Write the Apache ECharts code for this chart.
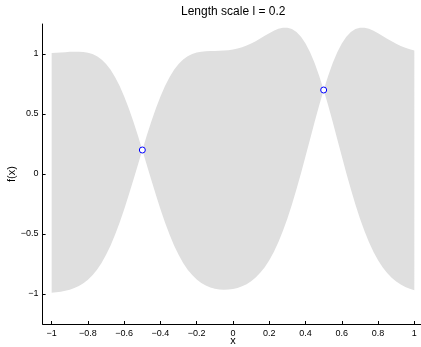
<!DOCTYPE html>
<html>
<head>
<meta charset="utf-8">
<script src="https://cdn.jsdelivr.net/npm/echarts@6/dist/echarts.min.js"></script>
<style>html,body{margin:0;padding:0;background:#fff;}#c{width:421px;height:347px;}</style>
</head>
<body>
<div id="c"></div>
<script>
const titleText = 'Length scale l = 0.2';
const xs = [-1,-0.975,-0.95,-0.925,-0.9,-0.875,-0.85,-0.825,-0.8,-0.775,-0.75,-0.725,-0.7,-0.675,-0.65,-0.625,-0.6,-0.575,-0.55,-0.525,
  -0.5,-0.475,-0.45,-0.425,-0.4,-0.375,-0.35,-0.325,-0.3,-0.275,-0.25,-0.225,-0.2,-0.175,-0.15,-0.125,-0.1,-0.075,-0.05,-0.025,
  0,0.025,0.05,0.075,0.1,0.125,0.15,0.175,0.2,0.225,0.25,0.275,0.3,0.325,0.35,0.375,0.4,0.425,0.45,0.475,
  0.5,0.525,0.55,0.575,0.6,0.625,0.65,0.675,0.7,0.725,0.75,0.775,0.8,0.825,0.85,0.875,0.9,0.925,0.95,0.975,1];
const upper = [1.0078,1.0101,1.0127,1.0154,1.0179,1.0195,1.0196,1.0171,1.0108,0.9991,0.9806,0.9535,0.9164,0.8678,0.8069,0.7332,0.6468,0.5486,0.4400,0.3229,
  0.2000,0.3229,0.4400,0.5486,0.6468,0.7332,0.8070,0.8680,0.9166,0.9539,0.9812,1.0001,1.0123,1.0194,1.0231,1.0248,1.0256,1.0265,1.0284,1.0320,
  1.0376,1.0458,1.0568,1.0708,1.0877,1.1072,1.1287,1.1513,1.1735,1.1937,1.2097,1.2192,1.2197,1.2088,1.1843,1.1445,1.0881,1.0147,0.9246,0.8191,
  0.7000,0.8191,0.9246,1.0147,1.0881,1.1445,1.1843,1.2088,1.2196,1.2191,1.2095,1.1934,1.1731,1.1506,1.1277,1.1057,1.0855,1.0677,1.0525,1.0399,1.0298];
const lower = [-0.9902,-0.9863,-0.9809,-0.9736,-0.9637,-0.9505,-0.9331,-0.9103,-0.8809,-0.8437,-0.7975,-0.7411,-0.6738,-0.5950,-0.5049,-0.4041,-0.2938,-0.1758,-0.0523,0.0739,
  0.2000,0.0739,-0.0523,-0.1758,-0.2938,-0.4041,-0.5048,-0.5949,-0.6735,-0.7407,-0.7969,-0.8427,-0.8794,-0.9079,-0.9295,-0.9452,-0.9559,-0.9623,-0.9647,-0.9635,
  -0.9585,-0.9496,-0.9363,-0.9180,-0.8938,-0.8628,-0.8239,-0.7761,-0.7181,-0.6491,-0.5684,-0.4754,-0.3704,-0.2540,-0.1275,0.0072,0.1474,0.2903,0.4323,0.5701,
  0.7000,0.5701,0.4323,0.2903,0.1474,0.0072,-0.1275,-0.2541,-0.3705,-0.4755,-0.5686,-0.6494,-0.7186,-0.7767,-0.8250,-0.8643,-0.8961,-0.9213,-0.9411,-0.9565,-0.9683];
const obsX = [-0.5, 0.5];
const obsY = [0.2, 0.7];
const xTicks = [-1,-0.8,-0.6,-0.4,-0.2,0,0.2,0.4,0.6,0.8,1];
const yTicks = [-1,-0.5,0,0.5,1];

const FONT = 'Liberation Sans, Arial, Helvetica, sans-serif';
const fmt = v => String(v).replace('-', '\u2212');
const chart = echarts.init(document.getElementById('c'), null, {renderer: 'canvas'});
chart.setOption({
  animation: false,
  backgroundColor: '#fff',
  title: {
    text: titleText, left: 181, top: 6, padding: 0,
    textStyle: {fontFamily: FONT, fontSize: 12, fontWeight: 'normal', color: '#000'}
  },
  grid: {left: 42.6, top: 24, width: 380.8, height: 300, outerBoundsMode: 'none', containLabel: false},
  xAxis: {
    type: 'value', min: -1.05, max: 1.05,
    name: 'x', nameLocation: 'middle', nameGap: 11, nameMoveOverlap: false,
    nameTextStyle: {fontFamily: FONT, fontSize: 11, color: '#000'},
    axisLine: {onZero: false, lineStyle: {color: '#000', width: 1}},
    axisTick: {inside: true, length: 3, lineStyle: {color: '#000'}, customValues: xTicks},
    axisLabel: {customValues: xTicks, formatter: fmt, fontFamily: FONT, fontSize: 9, color: '#000', margin: 5},
    splitLine: {show: false}
  },
  yAxis: {
    type: 'value', min: -1.25, max: 1.25,
    name: 'f(x)', nameLocation: 'middle', nameGap: 25, nameMoveOverlap: false,
    nameTextStyle: {fontFamily: FONT, fontSize: 11, color: '#000'},
    axisLine: {show: true, onZero: false, lineStyle: {color: '#000', width: 1}},
    axisTick: {show: true, inside: true, length: 3, lineStyle: {color: '#000'}, customValues: yTicks},
    axisLabel: {customValues: yTicks, formatter: fmt, fontFamily: FONT, fontSize: 9, color: '#000', margin: 4},
    splitLine: {show: false}
  },
  series: [
    {
      type: 'custom',
      coordinateSystem: 'cartesian2d',
      data: [[xs[0], lower[0]]],
      renderItem: function (params, api) {
        const pts = [];
        for (let i = 0; i < xs.length; i++) pts.push(api.coord([xs[i], upper[i]]));
        for (let i = xs.length - 1; i >= 0; i--) pts.push(api.coord([xs[i], lower[i]]));
        return {type: 'polygon', shape: {points: pts}, style: {fill: '#dfdfdf', stroke: null}};
      },
      z: 1
    },
    {
      type: 'scatter',
      data: obsX.map((x, i) => [x, obsY[i]]),
      symbol: 'circle',
      symbolSize: 6,
      itemStyle: {color: '#ffffff', borderColor: '#0000ff', borderWidth: 1, opacity: 1},
      z: 3
    }
  ]
});
</script>
</body>
</html>
